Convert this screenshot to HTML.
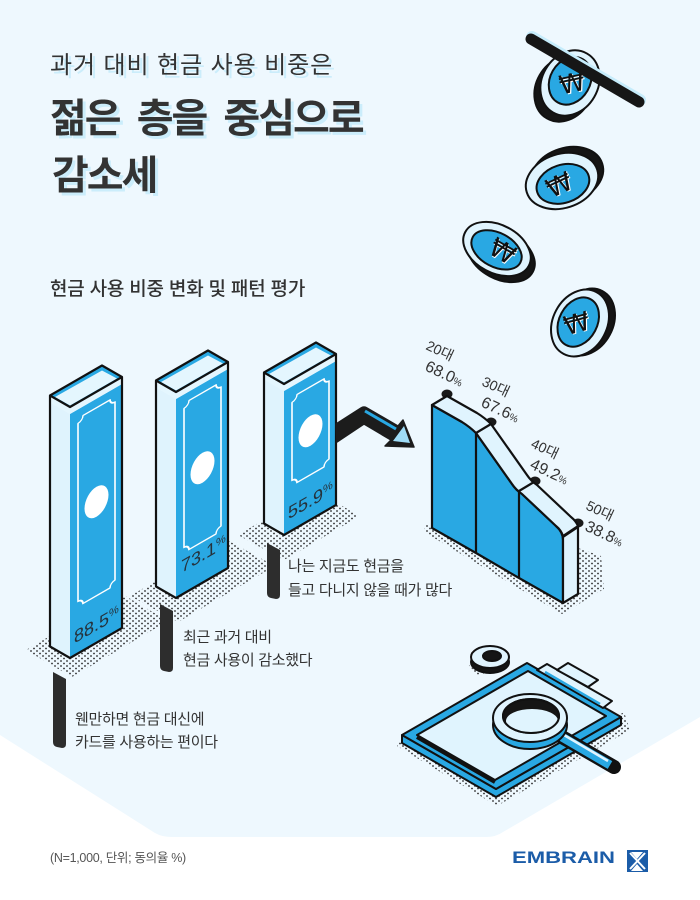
<!DOCTYPE html>
<html><head><meta charset="utf-8">
<style>html,body{margin:0;padding:0;background:#fff}svg{display:block}</style>
</head><body>
<svg width="700" height="900" viewBox="0 0 700 900" xmlns="http://www.w3.org/2000/svg" font-family="'Liberation Sans','Noto Sans CJK KR',sans-serif">
<defs>
<pattern id="dots" width="6" height="5" patternUnits="userSpaceOnUse">
<circle cx="1" cy="1" r="0.9" fill="#2a2a2a"/><circle cx="4" cy="3.5" r="0.9" fill="#2a2a2a"/>
</pattern>
</defs>
<rect width="700" height="900" fill="#fff"/>
<path d="M0,0 H700 V717 L503,832 Q496,837 486,837 H172 Q162,837 155,833 L0,735 Z" fill="#eef8fe"/>

<!-- titles -->
<g fill="#cbedfb">
<text x="53" y="76" font-size="24" letter-spacing="0.9">과거 대비 현금 사용 비중은</text>
<text x="53" y="135" font-size="40" font-weight="700" letter-spacing="-2" word-spacing="8">젊은 층을 중심으로</text>
<text x="55" y="192" font-size="40" font-weight="700" letter-spacing="-2">감소세</text>
</g>
<g fill="#333">
<text x="50" y="73" font-size="24" letter-spacing="0.9">과거 대비 현금 사용 비중은</text>
<text x="50" y="132" font-size="40" font-weight="700" letter-spacing="-2" word-spacing="8">젊은 층을 중심으로</text>
<text x="52" y="189" font-size="40" font-weight="700" letter-spacing="-2">감소세</text>
<text x="50" y="295" font-size="19" font-weight="500" letter-spacing="-0.2">현금 사용 비중 변화 및 패턴 평가</text>
</g>

<!-- coins -->
<g stroke="#111" stroke-width="2">
<ellipse transform="translate(564,89) rotate(-60)" rx="34" ry="28" fill="#151515"/>
<g transform="translate(570,83) rotate(-60)">
<ellipse rx="34" ry="28" fill="#e0f4fe"/>
<ellipse cx="2" cy="-1" rx="25" ry="20" fill="#29a8e3"/>
</g>
<ellipse transform="translate(567,175) rotate(-18)" rx="37" ry="27" fill="#151515"/>
<g transform="translate(562,181) rotate(-18)">
<ellipse rx="37" ry="27" fill="#e0f4fe"/>
<ellipse cx="0" cy="3" rx="27" ry="19" fill="#29a8e3"/>
</g>
<ellipse transform="translate(501,255) rotate(28)" rx="36" ry="24" fill="#151515"/>
<g transform="translate(497,249) rotate(28)">
<ellipse rx="36" ry="24" fill="#e0f4fe"/>
<ellipse cx="0" cy="1" rx="27" ry="17" fill="#29a8e3"/>
</g>
<ellipse transform="translate(586,322) rotate(-62)" rx="35" ry="27" fill="#151515"/>
<g transform="translate(580,323) rotate(-62)">
<ellipse rx="35" ry="27" fill="#e0f4fe"/>
<ellipse cx="0" cy="-2" rx="26" ry="19" fill="#29a8e3"/>
</g>
</g>
<g font-family="'DejaVu Sans',sans-serif" font-size="26" text-anchor="middle">
<text transform="translate(574,92) rotate(-12)" fill="#fff" x="1" y="1">₩</text>
<text transform="translate(574,92) rotate(-12)" fill="#111">₩</text>
<text transform="translate(563,193) rotate(-25)" fill="#fff" x="1" y="1">₩</text>
<text transform="translate(563,193) rotate(-25)" fill="#111">₩</text>
<text transform="translate(498,259) rotate(30)" fill="#fff" x="1" y="1">₩</text>
<text transform="translate(498,259) rotate(30)" fill="#111">₩</text>
<text transform="translate(579,332) rotate(-15)" fill="#fff" x="1" y="1">₩</text>
<text transform="translate(579,332) rotate(-15)" fill="#111">₩</text>
</g>
<line x1="531" y1="39" x2="639" y2="102" stroke="#c6ecfb" stroke-width="12" stroke-linecap="round" transform="translate(1,-2)"/>
<line x1="531" y1="39" x2="639" y2="102" stroke="#161616" stroke-width="11" stroke-linecap="round"/>

<!-- floor dots -->
<polygon points="26,650 72,677 168,621 122,594" fill="url(#dots)"/>
<polygon points="130,596 178,622 275,566 227,540" fill="url(#dots)"/>
<polygon points="238,535 284,560 360,516 314,490" fill="url(#dots)"/>
<polygon points="426,522 424,532 562,614 604,589 601,556 578,548 578,594 563,603 432,528" fill="url(#dots)"/>
<polygon points="397,746 497,806 630,730 624,712 497,790 402,738" fill="url(#dots)"/>
<polygon points="468,664 478,676 492,670 482,660" fill="url(#dots)"/>

<!-- bar 1 -->
<g stroke-linejoin="round">
<polygon points="50,402.5 70,414 70,658 50,646.5" fill="#dff3fd"/>
<polygon points="70,414 122,384 122,628 70,658" fill="#29a8e3"/>
<polygon points="50,395.5 70,407 70,414 50,402.5" fill="#e4f6fe"/>
<polygon points="70,407 122,377 122,384 70,414" fill="#e4f6fe"/>
<polygon points="50,395.5 102,365.5 122,377 70,407" fill="#29a8e3"/>
<polygon points="55,397 102,370.5 117,378.5 70,405.5" fill="#e4f6fe"/>
<path d="M50,395.5 L102,365.5 L122,377 L122,628 L70,658 L50,646.5 Z M50,395.5 L70,407 L122,377" fill="none" stroke="#111" stroke-width="2.2"/>
<g transform="matrix(1,-0.577,0,1,70,407)">
<path d="M13,16 H40 A5,5 0 0 0 45,21 V199 A5,5 0 0 0 40,204 H13 A5,5 0 0 0 8,199 V21 A5,5 0 0 0 13,16 Z" fill="none" stroke="#fff" stroke-width="1.6"/>
<ellipse cx="26.5" cy="110" rx="12" ry="15" fill="#fff"/>
<text x="4" y="239" font-size="18" fill="#25323c">88.5<tspan font-size="11" dy="-6">%</tspan></text>
</g>
</g>

<!-- bar 2 -->
<g stroke-linejoin="round">
<polygon points="156,387.5 176,399 176,598 156,586.5" fill="#dff3fd"/>
<polygon points="176,399 228,369 228,568 176,598" fill="#29a8e3"/>
<polygon points="156,380.5 176,392 176,399 156,387.5" fill="#e4f6fe"/>
<polygon points="176,392 228,362 228,369 176,399" fill="#e4f6fe"/>
<polygon points="156,380.5 208,350.5 228,362 176,392" fill="#29a8e3"/>
<polygon points="161,382 208,355.5 223,363.5 176,390.5" fill="#e4f6fe"/>
<path d="M156,380.5 L208,350.5 L228,362 L228,568 L176,598 L156,586.5 Z M156,380.5 L176,392 L228,362" fill="none" stroke="#111" stroke-width="2.2"/>
<g transform="matrix(1,-0.577,0,1,176,392)">
<path d="M13,16 H40 A5,5 0 0 0 45,21 V160 A5,5 0 0 0 40,165 H13 A5,5 0 0 0 8,160 V21 A5,5 0 0 0 13,16 Z" fill="none" stroke="#fff" stroke-width="1.6"/>
<ellipse cx="26.5" cy="91" rx="12" ry="15" fill="#fff"/>
<text x="5" y="184" font-size="18" fill="#25323c">73.1<tspan font-size="11" dy="-6">%</tspan></text>
</g>
</g>

<!-- bar 3 -->
<g stroke-linejoin="round">
<polygon points="264,379.5 284,391 284,535 264,523.5" fill="#dff3fd"/>
<polygon points="284,391 336,361 336,505 284,535" fill="#29a8e3"/>
<polygon points="264,372.5 284,384 284,391 264,379.5" fill="#e4f6fe"/>
<polygon points="284,384 336,354 336,361 284,391" fill="#e4f6fe"/>
<polygon points="264,372.5 316,342.5 336,354 284,384" fill="#29a8e3"/>
<polygon points="269,374 316,347.5 331,355.5 284,382.5" fill="#e4f6fe"/>
<path d="M264,372.5 L316,342.5 L336,354 L336,505 L284,535 L264,523.5 Z M264,372.5 L284,384 L336,354" fill="none" stroke="#111" stroke-width="2.2"/>
<g transform="matrix(1,-0.577,0,1,284,384)">
<path d="M13,18 H40 A5,5 0 0 0 45,23 V101 A5,5 0 0 0 40,106 H13 A5,5 0 0 0 8,101 V23 A5,5 0 0 0 13,18 Z" fill="none" stroke="#fff" stroke-width="1.6"/>
<ellipse cx="26.5" cy="62" rx="12" ry="15" fill="#fff"/>
<text x="4" y="138" font-size="18" fill="#25323c">55.9<tspan font-size="11" dy="-6">%</tspan></text>
</g>
</g>

<!-- arrow -->
<path d="M336,424 L361,408 Q364,406 367,408 L398,426 L403,420 L414,447 L385,446 L391,440 L364,424 L337,442 Z" fill="#1c1c1c" stroke="#1c1c1c" stroke-width="1.5" stroke-linejoin="round"/>
<line x1="365" y1="411" x2="396" y2="429" stroke="#29a8e3" stroke-width="3"/>
<polygon points="404,426 410,443 393,441" fill="#9fdcf7"/>

<!-- markers and labels -->
<g fill="#2d2d2d">
<path d="M53,672 L66,679 L66,744 Q66,748 62,748 L57,747 Q53,746 53,742 Z"/>
<path d="M160,604 L173,611 L173,668 Q173,672 169,672 L164,671 Q160,670 160,666 Z"/>
<path d="M267,543 L280,550 L280,595 Q280,599 276,599 L271,598 Q267,597 267,593 Z"/>
</g>
<g fill="#333" font-size="15" letter-spacing="-0.3">
<text x="75" y="724">웬만하면 현금 대신에</text>
<text x="75" y="747">카드를 사용하는 편이다</text>
<text x="183" y="642">최근 과거 대비</text>
<text x="183" y="665">현금 사용이 감소했다</text>
<text x="288" y="571">나는 지금도 현금을</text>
<text x="288" y="595">들고 다니지 않을 때가 많다</text>
</g>

<!-- right chart -->
<g fill="#1a1a1a">
<ellipse cx="447" cy="394" rx="5.5" ry="4.5"/>
<ellipse cx="491" cy="422" rx="5.5" ry="4.5"/>
<ellipse cx="535" cy="481" rx="5.5" ry="4.5"/>
<ellipse cx="578" cy="523" rx="5.5" ry="4.5"/>
</g>
<g stroke="#111" stroke-width="2.2" stroke-linejoin="round">
<path d="M432,405 L462,422 Q470,427 476,433 L512,484 Q516,490 522,494 L556,526 Q563,532 563,540 L563,603 L519,578 L476,553 L432,528 Z" fill="#29a8e3"/>
<path d="M563,537 L578,527 L578,594 L563,603 Z" fill="#dff3fd"/>
<path d="M432,405 L462,422 Q470,427 476,433 L512,484 Q516,490 522,494 L556,526 Q561,530 563,536 L578,526 Q576,521 571,517 L537,485 Q531,481 527,475 L491,424 Q485,418 477,413 L447,396 Z" fill="#e0f4fe"/>
<line x1="476" y1="433" x2="491" y2="424"/>
<line x1="519" y1="491" x2="534" y2="482"/>
<line x1="476" y1="433" x2="476" y2="553"/>
<line x1="519" y1="491" x2="519" y2="578"/>
</g>
<g fill="#333">
<text transform="translate(425,349) rotate(25)" font-size="14">20대</text>
<text transform="translate(424,370) rotate(25)" font-size="16">68.0<tspan font-size="10">%</tspan></text>
<text transform="translate(481,385) rotate(25)" font-size="14">30대</text>
<text transform="translate(480,406) rotate(25)" font-size="16">67.6<tspan font-size="10">%</tspan></text>
<text transform="translate(530,447) rotate(25)" font-size="14">40대</text>
<text transform="translate(529,468) rotate(25)" font-size="16">49.2<tspan font-size="10">%</tspan></text>
<text transform="translate(585,509) rotate(25)" font-size="14">50대</text>
<text transform="translate(584,530) rotate(25)" font-size="16">38.8<tspan font-size="10">%</tspan></text>
</g>

<!-- clipboard -->
<g stroke="#111" stroke-width="2" stroke-linejoin="round">
<path d="M402,735 L496,789 L621,717 L621,725 L496,797 L402,743 Z" fill="#29a8e3"/>
<path d="M402,735 L527,663 L621,717 L496,789 Z" fill="#29a8e3"/>
<path d="M417,735 L528,671 L606,716 L495,780 Z" fill="#e0f4fe"/>
<path d="M417,737 L495,782" stroke-width="4"/>
<path d="M537,670 L547,664 L612,701 L603,708 Z" fill="#e0f4fe"/>
<path d="M557,670 L568,663 L598,680 L588,687 Z" fill="#e0f4fe"/>
<line x1="545" y1="672" x2="600" y2="704" stroke="#29a8e3" stroke-width="2.5"/>
<!-- washer -->
<ellipse cx="490" cy="662" rx="19" ry="11" fill="#151515"/>
<ellipse cx="490" cy="657" rx="19" ry="11" fill="#e0f4fe"/>
<ellipse cx="492" cy="656" rx="9" ry="5" fill="#151515"/>
<!-- magnifier -->
<line x1="562" y1="737" x2="614" y2="767" stroke-width="14" stroke-linecap="round"/>
<line x1="562" y1="737" x2="610" y2="765" stroke="#29a8e3" stroke-width="9" stroke-linecap="butt"/>
<line x1="564" y1="735" x2="608" y2="761" stroke="#e0f4fe" stroke-width="2.5"/>
<ellipse cx="530" cy="725" rx="37" ry="24" fill="#29a8e3"/>
<ellipse cx="530" cy="718" rx="37" ry="24" fill="#e0f4fe"/>
<ellipse cx="531" cy="716" rx="28" ry="17" fill="#151515"/>
</g>
<ellipse cx="532" cy="721" rx="26" ry="12" fill="#e0f4fe"/>
<ellipse cx="531" cy="716" rx="28" ry="17" fill="none" stroke="#111" stroke-width="2"/>

<!-- footer -->
<text x="50" y="862" font-size="12.5" fill="#555" letter-spacing="-0.3">(N=1,000, 단위; 동의율 %)</text>
<text x="512" y="863" font-size="17" font-weight="700" fill="#1b5ca8" textLength="103" lengthAdjust="spacingAndGlyphs">EMBRAIN</text>
<rect x="627" y="850" width="21" height="22" fill="#1b5ca8"/>
<path d="M630,853 L645,869 M645,853 L630,869" stroke="#fff" stroke-width="2"/>
<polygon points="631,852 643,852 637,859" fill="#fff"/>
<polygon points="631,871 643,871 637,864" fill="#fff"/>
</svg>
</body></html>
